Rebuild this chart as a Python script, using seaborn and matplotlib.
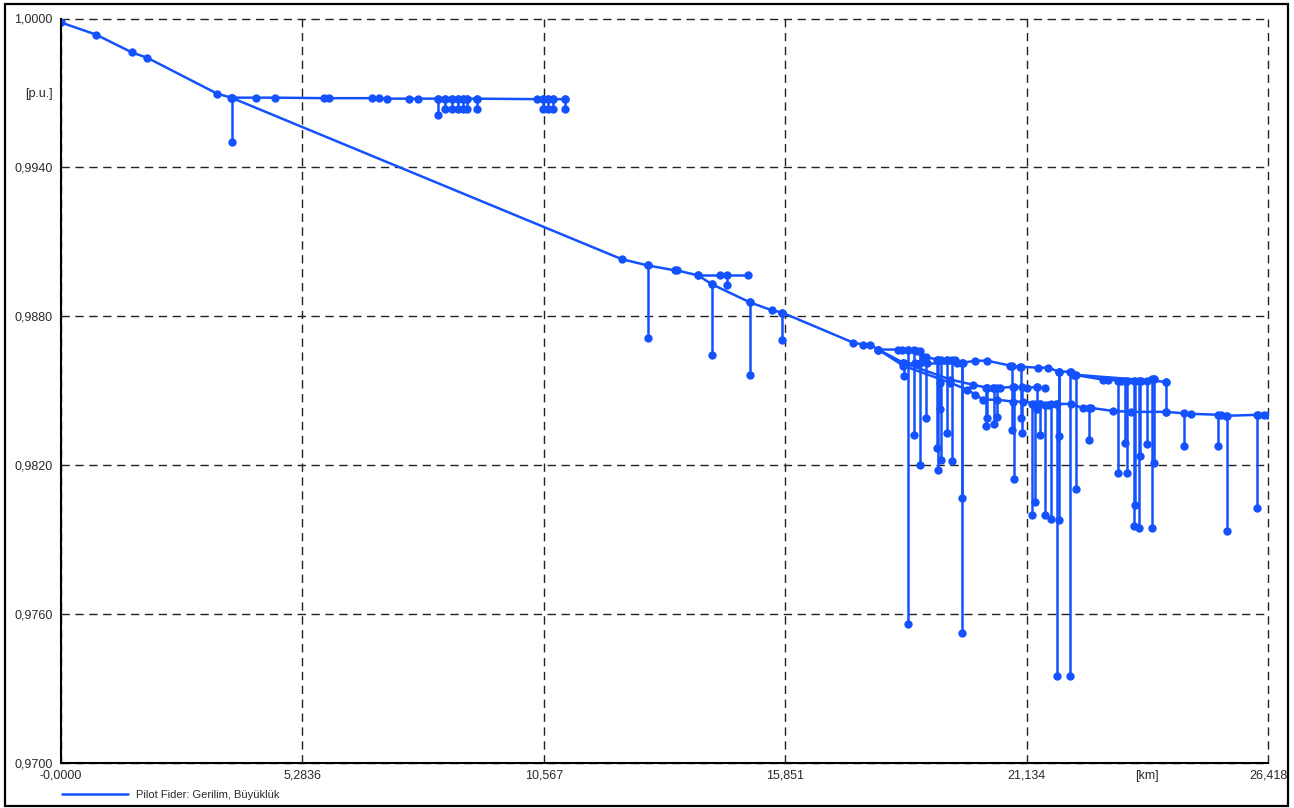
import matplotlib
matplotlib.use("Agg")
import matplotlib.pyplot as plt
from matplotlib.lines import Line2D
from matplotlib.patches import Rectangle
import seaborn as sns
import pandas as pd

# ---- voltage profile data (distance in km, voltage in p.u.) ----
trunk_km = [0.000, 0.767, 1.556, 1.885, 3.420, 3.727, 12.275, 12.845, 13.437, 13.481,
            13.941, 14.248, 15.081, 15.563, 15.783, 17.339, 17.558, 17.711, 17.887, 18.435,
            19.465, 19.838, 20.013, 20.188, 20.495, 20.846, 21.066, 21.438, 21.592, 21.767,
            22.096, 22.359, 22.534, 23.016, 23.411, 24.178, 24.726, 25.384, 25.493, 26.195,
            26.326, 26.414]
trunk_pu = [0.99984, 0.99935, 0.99863, 0.99842, 0.99697, 0.99681, 0.99030, 0.99005, 0.98985, 0.98985,
            0.98965, 0.98929, 0.98856, 0.98824, 0.98815, 0.98694, 0.98686, 0.98686, 0.98666, 0.98601,
            0.98532, 0.98504, 0.98484, 0.98464, 0.98464, 0.98456, 0.98456, 0.98447, 0.98443, 0.98447,
            0.98447, 0.98431, 0.98431, 0.98419, 0.98415, 0.98415, 0.98407, 0.98403, 0.98399, 0.98403,
            0.98403, 0.98403]

lateral_b_km = [3.748, 4.274, 4.691, 5.765, 5.875, 6.817, 6.971, 7.146, 7.606, 7.803,
                8.242, 8.395, 8.549, 8.680, 8.790, 8.878, 9.097, 10.412, 10.544, 10.653,
                10.763, 11.026]
lateral_b_pu = [0.99681, 0.99681, 0.99681, 0.99679, 0.99679, 0.99679, 0.99679, 0.99677, 0.99677, 0.99677,
                0.99677, 0.99677, 0.99677, 0.99677, 0.99677, 0.99677, 0.99677, 0.99675, 0.99675, 0.99675,
                0.99675, 0.99675]

lateral_d_km = [13.941, 14.424, 15.037]
lateral_d_pu = [0.98965, 0.98965, 0.98965]

lateral_c1_km = [17.887, 18.325, 18.413, 18.544, 18.742, 18.873, 19.202, 19.399, 19.575, 19.750,
                 20.013, 20.276, 20.781, 21.000, 21.394, 21.613, 21.833, 22.096, 22.161, 22.797,
                 22.907, 23.192, 23.630, 23.915]
lateral_c1_pu = [0.98666, 0.98666, 0.98666, 0.98666, 0.98662, 0.98638, 0.98625, 0.98625, 0.98625, 0.98613,
                 0.98621, 0.98621, 0.98601, 0.98597, 0.98593, 0.98593, 0.98577, 0.98577, 0.98565, 0.98545,
                 0.98545, 0.98540, 0.98540, 0.98549]

lateral_c1b_km = [22.161, 24.178]
lateral_c1b_pu = [0.98565, 0.98536]

lateral_c2_km = [17.887, 18.435, 19.465, 19.969, 20.276, 20.408, 20.561, 20.846, 21.153, 21.372, 21.548]
lateral_c2_pu = [0.98666, 0.98613, 0.98545, 0.98524, 0.98512, 0.98512, 0.98512, 0.98516, 0.98512, 0.98516, 0.98512]

lateral_f_km = [18.435, 18.698, 18.807, 18.961, 19.619]
lateral_f_pu = [0.98613, 0.98613, 0.98613, 0.98613, 0.98613]

# short spurs: position, voltage at tap, voltage at end node
stub_km = [3.748, 8.242, 8.395, 8.549, 8.680, 8.790, 8.878, 9.097, 10.544, 10.653,
           10.763, 11.026, 12.845, 14.248, 14.577, 15.081, 15.783, 18.457, 18.544, 18.676,
           18.807, 18.939, 19.180, 19.202, 19.268, 19.246, 19.399, 19.509, 19.728, 19.728,
           20.254, 20.276, 20.430, 20.495, 20.824, 20.868, 21.022, 21.044, 21.263, 21.329,
           21.372, 21.438, 21.548, 21.679, 21.789, 21.833, 21.833, 22.074, 22.205, 22.490,
           23.126, 23.279, 23.323, 23.477, 23.499, 23.586, 23.608, 23.761, 23.871, 23.915,
           24.178, 24.573, 25.318, 25.515, 26.173]
stub_from_pu = [0.99681, 0.99677, 0.99677, 0.99677, 0.99677, 0.99677, 0.99677, 0.99677, 0.99675, 0.99675,
                0.99675, 0.99675, 0.99005, 0.98929, 0.98965, 0.98856, 0.98815, 0.98613, 0.98666, 0.98666,
                0.98662, 0.98638, 0.98625, 0.98625, 0.98625, 0.98532, 0.98625, 0.98625, 0.98613, 0.98613,
                0.98512, 0.98512, 0.98512, 0.98512, 0.98601, 0.98516, 0.98597, 0.98516, 0.98447, 0.98447,
                0.98516, 0.98447, 0.98443, 0.98447, 0.98447, 0.98577, 0.98577, 0.98577, 0.98565, 0.98431,
                0.98540, 0.98540, 0.98540, 0.98540, 0.98540, 0.98540, 0.98540, 0.98540, 0.98549, 0.98549,
                0.98536, 0.98411, 0.98403, 0.98399, 0.98403]
stub_to_pu = [0.99503, 0.99612, 0.99636, 0.99636, 0.99636, 0.99636, 0.99636, 0.99636, 0.99636, 0.99636,
              0.99636, 0.99636, 0.98714, 0.98646, 0.98925, 0.98565, 0.98706, 0.98561, 0.97562, 0.98322,
              0.98201, 0.98391, 0.98270, 0.98181, 0.98221, 0.98427, 0.98330, 0.98217, 0.98067, 0.97522,
              0.98359, 0.98391, 0.98367, 0.98395, 0.98342, 0.98144, 0.98391, 0.98330, 0.97999, 0.98051,
              0.98427, 0.98322, 0.97999, 0.97983, 0.97352, 0.97979, 0.98318, 0.97352, 0.98104, 0.98302,
              0.98169, 0.98290, 0.98169, 0.97954, 0.98039, 0.97946, 0.98237, 0.98286, 0.97946, 0.98209,
              0.98415, 0.98278, 0.98278, 0.97934, 0.98027]

# axis ticks and labels
x_major = [0.0, 5.2836, 10.567, 15.851, 21.134, 26.418]
x_major_labels = ["-0,0000", "5,2836", "10,567", "15,851", "21,134", "26,418"]
x_minor = [2.6418, 7.9254, 13.209, 18.4926, 23.776]
x_minor_labels = ["", "", "", "", "[km]"]
y_major = [0.970, 0.976, 0.982, 0.988, 0.994, 1.000]
y_major_labels = ["0,9700", "0,9760", "0,9820", "0,9880", "0,9940", "1,0000"]
y_minor = [0.973, 0.979, 0.985, 0.991, 0.997]
y_minor_labels = ["", "", "", "", "[p.u.]"]

legend_label = "Pilot Fider: Gerilim, Büyüklük"
BLUE = "#1452ff"
TEXT = "#2a2a2a"

# ---- assemble one long table of line segments ----
rows = []
seg = 0
for xs, ys in [(trunk_km, trunk_pu), (lateral_b_km, lateral_b_pu), (lateral_d_km, lateral_d_pu),
               (lateral_c1_km, lateral_c1_pu), (lateral_c1b_km, lateral_c1b_pu),
               (lateral_c2_km, lateral_c2_pu), (lateral_f_km, lateral_f_pu)]:
    for order, (x, y) in enumerate(zip(xs, ys)):
        rows.append({"km": x, "pu": y, "seg": seg, "order": order})
    seg += 1
for x, y0, y1 in zip(stub_km, stub_from_pu, stub_to_pu):
    rows.append({"km": x, "pu": y0, "seg": seg, "order": 0})
    rows.append({"km": x, "pu": y1, "seg": seg, "order": 1})
    seg += 1
df = pd.DataFrame(rows)

sns.set_theme(style="white")
plt.rcParams["font.family"] = ["Liberation Sans", "DejaVu Sans"]

fig = plt.figure(figsize=(12.94, 8.08), dpi=100)
ax = fig.add_axes([61 / 1294, 45 / 808, 1207 / 1294, 744.5 / 808])

sns.lineplot(data=df, x="km", y="pu", units="seg", estimator=None, sort=False,
             color=BLUE, linewidth=1.8, marker="o", markersize=6,
             markeredgewidth=0, legend=False, ax=ax, zorder=3)

ax.set_xlim(0.0, 26.418)
ax.set_ylim(0.970, 1.000)

ax.set_xticks(x_major)
ax.set_xticklabels(x_major_labels)
ax.set_xticks(x_minor, minor=True)
ax.set_xticklabels(x_minor_labels, minor=True)
ax.set_yticks(y_major)
ax.set_yticklabels(y_major_labels)
ax.set_yticks(y_minor, minor=True)
ax.set_yticklabels(y_minor_labels, minor=True)

ax.tick_params(axis="both", which="both", direction="in", length=4, width=1,
               color="black", labelsize=9, labelcolor=TEXT)
ax.tick_params(axis="x", which="both", pad=5)
ax.tick_params(axis="y", which="both", pad=6)

ax.grid(True, which="major", color="#222222", linestyle=(0, (6, 4)), linewidth=1.0)
ax.set_axisbelow(True)
# keep the grid lines at the plot edges fully visible
for gl in ax.get_xgridlines() + ax.get_ygridlines():
    gl.set_clip_on(False)
for side in ["top", "right"]:
    ax.spines[side].set_visible(False)
for side in ["left", "bottom"]:
    ax.spines[side].set_color("black")
    ax.spines[side].set_linewidth(1.5)
    ax.spines[side].set_zorder(4)
ax.set_xlabel("")
ax.set_ylabel("")

# legend under the plot area
fig.legend(handles=[Line2D([], [], color=BLUE, linewidth=1.8)], labels=[legend_label],
           loc="center left", bbox_to_anchor=(62 / 1294, 1 - 795 / 808),
           frameon=False, fontsize=8, handlelength=5.9, handletextpad=0.8,
           borderpad=0, borderaxespad=0, labelcolor=TEXT)

# frame around the whole graphic
fig.add_artist(Rectangle((5 / 1294, 2 / 808), 1283 / 1294, 802 / 808,
                         transform=fig.transFigure, fill=False,
                         edgecolor="black", linewidth=1.6))

fig.savefig("out.png", dpi=100, facecolor="white")
